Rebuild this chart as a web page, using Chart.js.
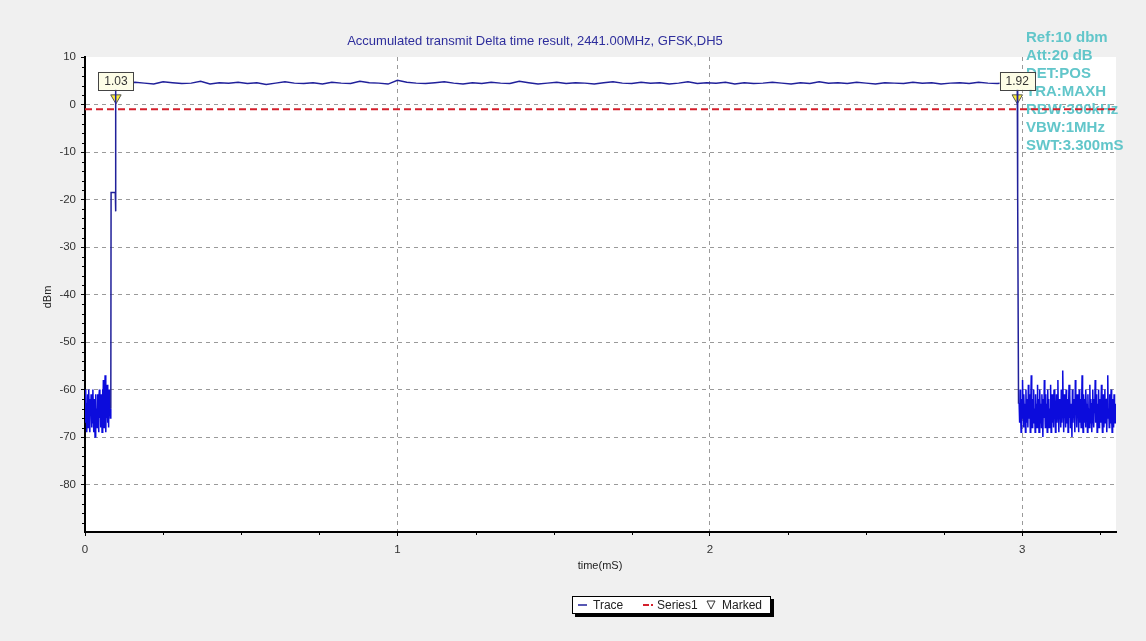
<!DOCTYPE html>
<html>
<head>
<meta charset="utf-8">
<script src="https://cdn.jsdelivr.net/npm/chart.js@4.4.0/dist/chart.umd.min.js"></script>
<style>
  html, body { margin: 0; padding: 0; background: #f0f0f0; }
  canvas { display: block; }
</style>
</head>
<body>
<canvas id="deltaChart" width="1146" height="641"></canvas>
<script>
// trace pieces (time in mS, level in dBm)
const leftStart = 0, leftStep = 0.0014;
const leftNoise = [
  -62, -67, -60, -65, -69, -63, -61, -68, -64, -60,
  -66, -69, -62, -65, -61, -68, -63, -67, -60, -64,
  -69, -62, -66, -70, -63, -61, -67, -64, -68, -61,
  -65, -69, -62, -60, -66, -63, -68, -61, -64, -69,
  -60, -66, -58, -65, -68, -62, -57, -64, -69, -61,
  -66, -59, -67, -63, -68, -60, -65, -62, -66, -64
];

const riseTimes = [0.0835, 0.097, 0.0975, 0.099];
const riseValues = [-18.5, -18.5, -22.5, 4.8];

const topStart = 0.1, topStep = 0.03;
const topLevel = [
  4.6, 4.4, 4.7, 4.5, 4.3, 4.8, 4.6, 4.4, 4.5, 4.9,
  4.3, 4.6, 4.5, 4.7, 4.4, 4.6, 4.2, 4.5, 4.8, 4.5,
  4.4, 4.6, 4.3, 4.7, 4.5, 4.4, 4.9, 4.6, 4.5, 4.3,
  5.1, 4.7, 4.5, 4.4, 4.6, 4.8, 4.5, 4.3, 4.6, 4.4,
  4.7, 4.5, 4.4, 4.9, 4.6, 4.3, 4.5, 4.7, 4.4, 4.6,
  4.5, 4.3, 4.6, 4.8, 4.5, 4.4, 4.7, 4.5, 4.6, 4.3,
  4.5, 4.8, 4.4, 4.6, 4.5, 4.7, 4.3, 4.6, 4.4, 4.5,
  4.7, 4.5, 4.3, 4.6, 4.4, 4.8, 4.5, 4.6, 4.4, 4.7,
  4.5, 4.3, 4.6, 4.5, 4.4, 4.7, 4.5, 4.6, 4.3, 4.5,
  4.6, 4.4, 4.7, 4.5, 4.4, 4.6, 4.5
];

const fallTimes = [2.984, 2.9845, 2.986, 2.988];
const fallValues = [4.5, -20, -19, -63];

const rightStart = 2.99, rightStep = 0.00155;
const rightNoise = [
  -63, -67, -60, -65, -69, -62, -66, -58, -64, -68,
  -61, -66, -63, -69, -60, -65, -67, -62, -68, -59,
  -64, -66, -61, -69, -63, -57, -65, -68, -62, -66,
  -60, -67, -64, -69, -61, -65, -63, -68, -59, -66,
  -62, -69, -64, -60, -67, -63, -68, -61, -65, -70,
  -62, -66, -58, -64, -68, -61, -67, -63, -69, -60,
  -65, -62, -68, -64, -66, -59, -69, -63, -61, -67,
  -64, -68, -60, -65, -62, -69, -66, -61, -67, -63,
  -58, -65, -69, -62, -66, -64, -68, -60, -67, -63,
  -56, -64, -69, -61, -66, -63, -68, -60, -65, -67,
  -62, -69, -64, -59, -66, -61, -68, -63, -65, -70,
  -60, -67, -62, -66, -64, -69, -58, -65, -63, -68,
  -61, -66, -64, -69, -60, -67, -62, -65, -68, -63,
  -57, -66, -69, -61, -64, -67, -62, -68, -60, -65,
  -63, -69, -61, -66, -64, -68, -59, -67, -62, -65,
  -69, -63, -60, -66, -68, -62, -65, -58, -67, -64,
  -61, -69, -63, -66, -60, -68, -64, -62, -67, -65,
  -59, -66, -69, -63, -61, -68, -64, -60, -67, -62,
  -65, -69, -62, -57, -66, -64, -68, -61, -67, -63,
  -60, -66, -69, -62, -65, -68, -61, -64, -67, -63
];

const limitTimes = [0, 3.3];
const limitValues = [-1, -1];

const markerTimes = [0.099, 2.984];
const markerValues = [1.4, 1.4];
const markerLabels = ['1.03', '1.92'];

const xTicks = [0, 1, 2, 3];
const yTicks = [10, 0, -10, -20, -30, -40, -50, -60, -70, -80];

const titleText = 'Accumulated transmit Delta time result, 2441.00MHz, GFSK,DH5';
const infoLines = ['Ref:10 dbm', 'Att:20 dB', 'DET:POS', 'TRA:MAXH', 'RBW:300kHz', 'VBW:1MHz', 'SWT:3.300mS'];

// build the trace
const trace = [];
leftNoise.forEach((v, i) => trace.push({ x: leftStart + i * leftStep, y: v }));
riseTimes.forEach((t, i) => trace.push({ x: t, y: riseValues[i] }));
topLevel.forEach((v, i) => trace.push({ x: topStart + i * topStep, y: v }));
fallTimes.forEach((t, i) => trace.push({ x: t, y: fallValues[i] }));
rightNoise.forEach((v, i) => trace.push({ x: rightStart + i * rightStep, y: v }));

const FONT = '"Liberation Sans", Arial, sans-serif';

const decorations = {
  id: 'decorations',
  beforeDraw(chart) {
    const { ctx, chartArea: a } = chart;
    ctx.save();
    ctx.fillStyle = '#ffffff';
    ctx.fillRect(a.left, a.top, a.right - a.left, a.bottom - a.top);
    ctx.restore();
  },
  beforeDatasetsDraw(chart) {
    const { ctx } = chart;
    ctx.save();
    ctx.font = 'bold 15px ' + FONT;
    ctx.fillStyle = '#62c6ca';
    ctx.textBaseline = 'middle';
    infoLines.forEach((s, i) => ctx.fillText(s, 1026, 38 + i * 18));
    ctx.restore();
  },
  afterDatasetsDraw(chart) {
    const { ctx } = chart;
    const xs = chart.scales.x, ys = chart.scales.y;
    ctx.save();
    ctx.font = '12px ' + FONT;
    ctx.textAlign = 'center';
    ctx.textBaseline = 'middle';
    markerTimes.forEach((t, i) => {
      const px = xs.getPixelForValue(t);
      const py = ys.getPixelForValue(markerValues[i]);
      const w = ctx.measureText(markerLabels[i]).width + 12;
      const top = py - 26, h = 18;
      ctx.fillStyle = '#fdfde6';
      ctx.fillRect(px - w / 2, top, w, h);
      ctx.strokeStyle = '#444';
      ctx.lineWidth = 1;
      ctx.strokeRect(Math.round(px - w / 2) + 0.5, Math.round(top) + 0.5, Math.round(w), h);
      ctx.fillStyle = '#333';
      ctx.fillText(markerLabels[i], px, top + h / 2 + 1);
    });
    ctx.restore();
  },
  afterDraw(chart) {
    const { ctx, chartArea: a } = chart;
    const xs = chart.scales.x, ys = chart.scales.y;
    ctx.save();
    // minor ticks
    ctx.strokeStyle = '#000';
    ctx.lineWidth = 1;
    ctx.beginPath();
    for (let t = 0.25; t < 3.3; t += 0.25) {
      if (Math.abs(t - Math.round(t)) < 0.01) continue;
      const px = Math.round(xs.getPixelForValue(t)) + 0.5;
      ctx.moveTo(px, a.bottom);
      ctx.lineTo(px, a.bottom + 3);
    }
    for (let v = -88; v < 10; v += 2) {
      if (v % 10 === 0) continue;
      const py = Math.round(ys.getPixelForValue(v)) + 0.5;
      ctx.moveTo(a.left - 3, py);
      ctx.lineTo(a.left, py);
    }
    ctx.stroke();

    // title
    ctx.fillStyle = '#2e2e9c';
    ctx.font = '13px ' + FONT;
    ctx.textAlign = 'center';
    ctx.textBaseline = 'middle';
    ctx.fillText(titleText, 535, 41);

    // axis titles
    ctx.fillStyle = '#222';
    ctx.font = '11px ' + FONT;
    ctx.fillText('time(mS)', 600, 566);
    ctx.save();
    ctx.translate(48, 297);
    ctx.rotate(-Math.PI / 2);
    ctx.fillText('dBm', 0, 0);
    ctx.restore();

    // legend box
    const ds = chart.data.datasets;
    const lx = 572, ly = 596, lw = 199, lh = 18;
    ctx.fillStyle = '#000';
    ctx.fillRect(lx + 3, ly + 3, lw, lh);
    ctx.fillStyle = '#fff';
    ctx.fillRect(lx, ly, lw, lh);
    ctx.strokeStyle = '#000';
    ctx.strokeRect(lx + 0.5, ly + 0.5, lw - 1, lh - 1);
    const cy = ly + lh / 2;
    ctx.lineWidth = 1.5;
    ctx.strokeStyle = '#20209a';
    ctx.beginPath(); ctx.moveTo(578, cy); ctx.lineTo(587, cy); ctx.stroke();
    ctx.strokeStyle = ds[1].borderColor;
    ctx.lineWidth = 2;
    ctx.beginPath(); ctx.moveTo(643, cy); ctx.lineTo(649, cy); ctx.moveTo(651, cy); ctx.lineTo(653, cy); ctx.stroke();
    ctx.lineWidth = 1;
    ctx.strokeStyle = '#333';
    ctx.beginPath(); ctx.moveTo(707, cy - 4); ctx.lineTo(715, cy - 4); ctx.lineTo(711, cy + 4); ctx.closePath(); ctx.stroke();
    ctx.fillStyle = '#222';
    ctx.font = '12px ' + FONT;
    ctx.textAlign = 'left';
    ctx.fillText(ds[0].label, 593, cy + 1);
    ctx.fillText(ds[1].label, 657, cy + 1);
    ctx.fillText(ds[2].label, 722, cy + 1);
    ctx.restore();
  }
};

new Chart(document.getElementById('deltaChart'), {
  type: 'line',
  data: {
    datasets: [
      {
        label: 'Trace',
        data: trace,
        borderColor: '#20209a',
        borderWidth: 1.5,
        pointRadius: 0,
        tension: 0,
        segment: {
          borderColor: (c) => (c.p0.parsed.y < -50 && c.p1.parsed.y < -50 ? '#0c0cdc' : undefined),
        },
      },
      {
        label: 'Series1',
        data: limitTimes.map((t, i) => ({ x: t, y: limitValues[i] })),
        borderColor: '#d4202c',
        borderWidth: 2,
        borderDash: [7, 4],
        pointRadius: 0,
      },
      {
        label: 'Marked',
        type: 'scatter',
        data: markerTimes.map((t, i) => ({ x: t, y: markerValues[i] })),
        pointStyle: 'triangle',
        rotation: 180,
        pointRadius: 6,
        backgroundColor: '#fff03a',
        borderColor: '#555',
        borderWidth: 1,
      },
    ],
  },
  options: {
    responsive: false,
    animation: false,
    layout: { padding: { top: 57, right: 30, left: 0, bottom: 0 } },
    plugins: { legend: { display: false }, tooltip: { enabled: false }, title: { display: false } },
    scales: {
      x: {
        type: 'linear',
        min: 0,
        max: 3.3,
        afterFit: (s) => { s.height = 109; },
        afterBuildTicks: (s) => { s.ticks = xTicks.map((v) => ({ value: v })); },
        ticks: { color: '#333', font: { family: FONT, size: 11.5 }, padding: 7, maxRotation: 0 },
        grid: {
          color: (c) => (c.tick && c.tick.value === 0 ? 'rgba(0,0,0,0)' : '#9a9a9a'),
          tickColor: '#000',
          tickLength: 4,
          lineWidth: 1,
        },
        border: { display: true, color: '#000', width: 2, dash: [4, 4] },
      },
      y: {
        min: -90,
        max: 10,
        afterFit: (s) => { s.width = 85; },
        afterBuildTicks: (s) => { s.ticks = yTicks.map((v) => ({ value: v })); },
        ticks: { color: '#333', font: { family: FONT, size: 11.5 }, padding: 5 },
        grid: {
          color: (c) => (c.tick && c.tick.value === 10 ? 'rgba(0,0,0,0)' : '#9a9a9a'),
          tickColor: '#000',
          tickLength: 4,
          lineWidth: 1,
        },
        border: { display: true, color: '#000', width: 2, dash: [4, 4] },
      },
    },
  },
  plugins: [decorations],
});
</script>
</body>
</html>
